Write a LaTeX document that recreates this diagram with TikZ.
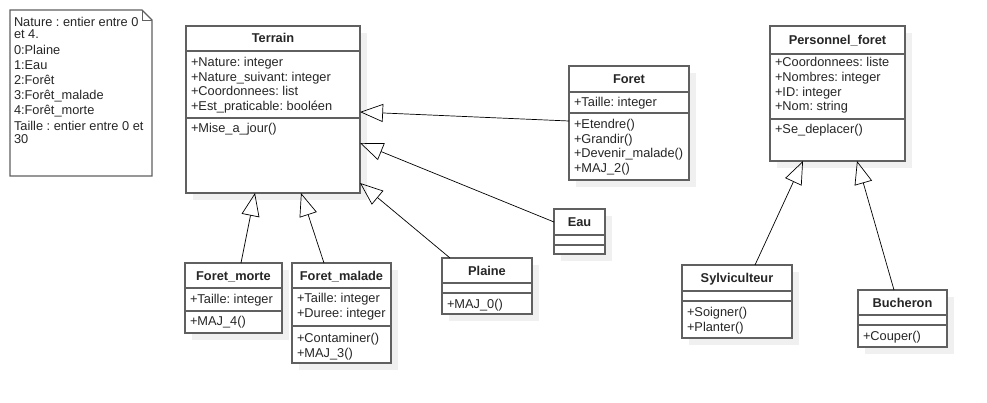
\documentclass[tikz,border=0pt]{standalone}
\usepackage{fontspec}
\setmainfont{Liberation Sans}
\usetikzlibrary{arrows.meta,calc}
\definecolor{boxc}{RGB}{96,96,96}
\definecolor{shadc}{RGB}{240,240,240}
\frenchspacing
\tikzset{
  classbox/.style={draw=boxc, line width=1.2pt, fill=white, rectangle, inner sep=0pt, outer sep=0pt},
  txt/.style={inner sep=0pt, outer sep=0pt, font=\fontsize{12.8}{15}\selectfont, text=black!85},
  ttl/.style={txt, font=\fontsize{12.8}{15}\selectfont\bfseries},
  divline/.style={draw=boxc, line width=1.2pt},
  inherit/.style={draw=black, line width=0.7pt, -{Triangle[open, length=23pt, width=18pt]}},
}
% name, left, top, right, bottom, div1, div2, title, title baseline
\newcommand{\umlbox}[9]{%
  \fill[shadc] (#2+7,#3+7) rectangle (#4+7,#5+7);
  \node[classbox, anchor=north west, minimum width={(#4-#2)*1pt}, minimum height={(#5-#3)*1pt}] (#1) at (#2,#3) {};
  \draw[divline] (#2,#6) -- (#4,#6);
  \draw[divline] (#2,#7) -- (#4,#7);
  \node[ttl, anchor=base] (#1-title) at ({(#2+#4)/2},#9) {#8};
}
% prefix, x, first baseline, list
\newcommand{\textlines}[4]{%
  \foreach \t [count=\i] in {#4} {\node[txt, anchor=base west] (#1-\i) at (#2, {#3+(\i-1)*14.6}) {\t};}
}
\begin{document}
\begin{tikzpicture}[x=1pt, y=-1pt]
\useasboundingbox (0,0) rectangle (987,403);

% note
\draw[boxc, line width=1.2pt, fill=white] (10,10) -- (142,10) -- (152,20) -- (152,176) -- (10,176) -- cycle;
\draw[boxc, line width=0.5pt] (142,10) -- (142,20) -- (152,20);
\node[txt, anchor=base west] (n1) at (14,26.5) {Nature : entier entre 0};
\node[txt, anchor=base west] (n2) at (14,38.5) {et 4.};
\node[txt, anchor=base west] (n3) at (14,55) {0:Plaine};
\node[txt, anchor=base west] (n4) at (14,69.5) {1:Eau};
\node[txt, anchor=base west] (n5) at (14,84.5) {2:Forêt};
\node[txt, anchor=base west] (n6) at (14,99.5) {3:Forêt\_malade};
\node[txt, anchor=base west] (n7) at (14,114.5) {4:Forêt\_morte};
\node[txt, anchor=base west] (n8) at (14,131) {Taille : entier entre 0 et};
\node[txt, anchor=base west] (n9) at (14,143.5) {30};

% Terrain
\umlbox{terrain}{186}{26}{360}{193}{51}{118}{Terrain}{43}
\textlines{terrainA}{191}{66.5}{+Nature: integer, +Nature\_suivant: integer, +Coordonnees: list, +Est\_praticable: booléen}
\textlines{terrainM}{191}{132.7}{+Mise\_a\_jour()}

% Foret
\umlbox{foret}{569}{66}{689}{180}{92}{113}{Foret}{83.7}
\textlines{foretA}{574}{107}{+Taille: integer}
\textlines{foretM}{574}{128.7}{+Etendre(), +Grandir(), +Devenir\_malade(), +MAJ\_2()}

% Eau
\umlbox{eau}{554}{209}{605}{254}{235}{245}{Eau}{226.7}

% Foret_morte
\umlbox{fmorte}{185}{263}{282}{333}{288}{311}{Foret\_morte}{280}
\textlines{fmorteA}{190}{303.5}{+Taille: integer}
\textlines{fmorteM}{190}{325.7}{+MAJ\_4()}

% Foret_malade
\umlbox{fmalade}{292}{263}{391}{363}{288}{326}{Foret\_malade}{280}
\textlines{fmaladeA}{297}{302.5}{+Taille: integer, +Duree: integer}
\textlines{fmaladeM}{297}{342.7}{+Contaminer(), +MAJ\_3()}

% Plaine
\umlbox{plaine}{442}{258}{532}{314}{283}{293}{Plaine}{275}
\textlines{plaineM}{447}{308}{+MAJ\_0()}

% Personnel_foret
\umlbox{pers}{770}{26}{905}{161}{54}{119}{Personnel\_foret}{44.7}
\textlines{persA}{775}{67}{+Coordonnees: liste, +Nombres: integer, +ID: integer, +Nom: string}
\textlines{persM}{775}{134}{+Se\_deplacer()}

% Sylviculteur
\umlbox{sylv}{682}{265}{792}{338}{291}{301}{Sylviculteur}{282.7}
\textlines{sylvM}{687}{316.4}{+Soigner(), +Planter()}

% Bucheron
\umlbox{buch}{858}{290}{947}{347}{315}{325}{Bucheron}{307}
\textlines{buchM}{863}{340.7}{+Couper()}

% inheritance
\draw[inherit] ($(foret.north west)+(0,55)$) -- ($(terrain.north east)+(0,86)$);
\draw[inherit] ($(eau.north west)+(0,13)$) -- ($(terrain.north east)+(0,117)$);
\draw[inherit] ($(plaine.north west)+(8,0)$) -- ($(terrain.north east)+(0,157)$);
\draw[inherit] ($(fmorte.north west)+(56,0)$) -- ($(terrain.south west)+(69,0)$);
\draw[inherit] ($(fmalade.north west)+(32,0)$) -- ($(terrain.south west)+(115,0)$);
\draw[inherit] ($(sylv.north west)+(73,0)$) -- ($(pers.south west)+(33,0)$);
\draw[inherit] ($(buch.north west)+(36,0)$) -- ($(pers.south west)+(87,0)$);
\end{tikzpicture}
\end{document}
